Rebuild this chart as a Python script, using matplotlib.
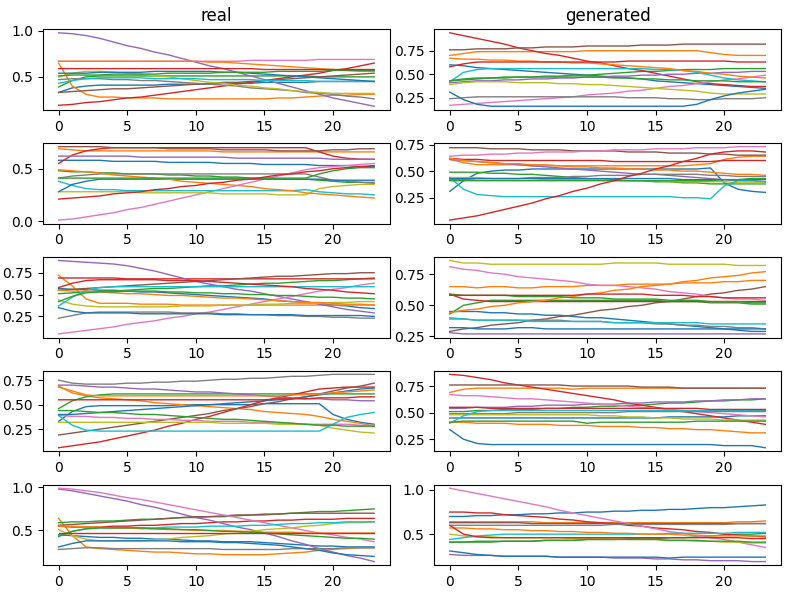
import numpy as np
import matplotlib
matplotlib.use("Agg")
import matplotlib.pyplot as plt

# 24 time steps, 14 series per panel (tab10 colour cycle order)
steps = np.arange(24)

real_1 = [
    [0.33,0.38,0.40,0.41,0.41,0.41,0.41,0.41,0.42,0.42,0.42,0.42,0.43,0.43,0.43,0.44,0.44,0.44,0.44,0.45,0.45,0.45,0.45,0.45],
    [0.65,0.40,0.31,0.28,0.28,0.27,0.27,0.27,0.26,0.26,0.26,0.26,0.26,0.26,0.26,0.26,0.27,0.27,0.28,0.29,0.30,0.30,0.31,0.31],
    [0.39,0.46,0.50,0.51,0.51,0.51,0.51,0.51,0.51,0.51,0.51,0.51,0.51,0.51,0.51,0.51,0.51,0.51,0.51,0.50,0.50,0.50,0.50,0.50],
    [0.19,0.20,0.22,0.23,0.25,0.27,0.28,0.30,0.32,0.34,0.36,0.38,0.40,0.42,0.44,0.46,0.48,0.50,0.52,0.54,0.57,0.59,0.62,0.65],
    [0.98,0.97,0.95,0.92,0.88,0.84,0.81,0.77,0.74,0.70,0.66,0.62,0.59,0.55,0.51,0.47,0.43,0.39,0.35,0.31,0.27,0.24,0.21,0.18],
    [0.33,0.34,0.35,0.36,0.37,0.37,0.38,0.39,0.40,0.41,0.42,0.43,0.44,0.44,0.45,0.46,0.47,0.48,0.49,0.50,0.51,0.52,0.53,0.54],
    [0.67,0.67,0.67,0.67,0.67,0.67,0.67,0.67,0.67,0.67,0.67,0.67,0.67,0.67,0.68,0.68,0.68,0.68,0.68,0.69,0.69,0.69,0.69,0.69],
    [0.47,0.48,0.48,0.48,0.47,0.47,0.46,0.46,0.45,0.44,0.43,0.42,0.41,0.40,0.38,0.37,0.36,0.35,0.33,0.32,0.31,0.29,0.28,0.26],
    [0.50,0.54,0.56,0.56,0.55,0.54,0.53,0.51,0.50,0.48,0.46,0.44,0.43,0.41,0.40,0.38,0.37,0.35,0.34,0.33,0.32,0.32,0.32,0.32],
    [0.43,0.46,0.48,0.49,0.49,0.49,0.49,0.48,0.48,0.48,0.48,0.47,0.47,0.47,0.47,0.46,0.46,0.46,0.46,0.45,0.45,0.45,0.45,0.45],
    [0.54,0.54,0.54,0.55,0.55,0.55,0.55,0.56,0.56,0.56,0.56,0.56,0.55,0.55,0.54,0.53,0.52,0.51,0.50,0.49,0.48,0.47,0.46,0.45],
    [0.67,0.67,0.67,0.67,0.67,0.67,0.67,0.67,0.67,0.67,0.67,0.66,0.66,0.65,0.64,0.63,0.62,0.61,0.60,0.59,0.58,0.57,0.56,0.56],
    [0.51,0.52,0.52,0.52,0.53,0.53,0.53,0.53,0.54,0.54,0.54,0.54,0.55,0.55,0.55,0.55,0.56,0.56,0.56,0.56,0.57,0.57,0.57,0.57],
    [0.59,0.59,0.59,0.59,0.59,0.59,0.59,0.59,0.59,0.59,0.59,0.59,0.59,0.59,0.59,0.58,0.58,0.58,0.58,0.58,0.58,0.58,0.58,0.58],
]

gen_1 = [
    [0.60,0.59,0.57,0.56,0.55,0.54,0.53,0.52,0.51,0.50,0.49,0.48,0.47,0.46,0.45,0.43,0.42,0.41,0.40,0.39,0.38,0.37,0.36,0.35],
    [0.70,0.72,0.74,0.74,0.74,0.74,0.74,0.74,0.74,0.74,0.75,0.75,0.75,0.75,0.75,0.75,0.75,0.75,0.75,0.73,0.71,0.70,0.70,0.70],
    [0.43,0.44,0.45,0.46,0.46,0.47,0.47,0.48,0.48,0.49,0.49,0.50,0.51,0.52,0.53,0.53,0.54,0.55,0.55,0.55,0.56,0.56,0.56,0.56],
    [0.94,0.91,0.88,0.85,0.82,0.78,0.75,0.72,0.70,0.67,0.64,0.62,0.59,0.56,0.54,0.51,0.48,0.45,0.42,0.40,0.39,0.38,0.37,0.37],
    [0.41,0.42,0.43,0.43,0.44,0.44,0.45,0.45,0.46,0.46,0.47,0.47,0.48,0.48,0.49,0.49,0.50,0.50,0.51,0.51,0.52,0.52,0.53,0.53],
    [0.76,0.76,0.77,0.77,0.77,0.78,0.78,0.79,0.79,0.79,0.80,0.80,0.80,0.80,0.81,0.81,0.81,0.82,0.82,0.82,0.82,0.82,0.82,0.82],
    [0.17,0.18,0.19,0.20,0.21,0.22,0.23,0.24,0.25,0.26,0.28,0.29,0.30,0.32,0.33,0.35,0.37,0.38,0.40,0.42,0.44,0.45,0.47,0.49],
    [0.24,0.25,0.26,0.26,0.26,0.26,0.26,0.26,0.26,0.26,0.26,0.26,0.26,0.25,0.25,0.25,0.24,0.24,0.23,0.23,0.24,0.24,0.24,0.25],
    [0.39,0.41,0.42,0.42,0.42,0.41,0.41,0.41,0.40,0.40,0.39,0.39,0.38,0.37,0.36,0.35,0.34,0.33,0.32,0.30,0.29,0.29,0.29,0.29],
    [0.42,0.52,0.55,0.56,0.56,0.56,0.56,0.56,0.56,0.56,0.56,0.56,0.56,0.56,0.56,0.55,0.55,0.54,0.52,0.49,0.46,0.44,0.43,0.42],
    [0.31,0.23,0.18,0.16,0.16,0.16,0.16,0.16,0.16,0.16,0.16,0.16,0.16,0.16,0.16,0.16,0.16,0.16,0.18,0.23,0.27,0.30,0.32,0.34],
    [0.67,0.66,0.66,0.65,0.65,0.64,0.64,0.63,0.63,0.62,0.62,0.61,0.60,0.59,0.58,0.57,0.56,0.54,0.53,0.51,0.50,0.48,0.47,0.46],
    [0.43,0.45,0.46,0.46,0.47,0.47,0.47,0.47,0.47,0.47,0.47,0.47,0.46,0.46,0.45,0.45,0.44,0.44,0.43,0.43,0.43,0.42,0.42,0.42],
    [0.58,0.61,0.63,0.63,0.63,0.63,0.63,0.63,0.63,0.63,0.63,0.63,0.63,0.64,0.64,0.64,0.64,0.64,0.64,0.64,0.64,0.63,0.63,0.63],
]

real_2 = [
    [0.58,0.58,0.58,0.58,0.57,0.57,0.57,0.57,0.56,0.56,0.56,0.56,0.55,0.55,0.55,0.54,0.54,0.54,0.54,0.53,0.53,0.53,0.52,0.52],
    [0.69,0.68,0.67,0.67,0.67,0.67,0.67,0.67,0.67,0.67,0.67,0.67,0.66,0.66,0.66,0.66,0.66,0.66,0.66,0.66,0.66,0.66,0.66,0.66],
    [0.48,0.47,0.47,0.46,0.46,0.45,0.45,0.45,0.44,0.44,0.43,0.43,0.42,0.42,0.41,0.41,0.40,0.40,0.40,0.39,0.38,0.37,0.37,0.36],
    [0.55,0.63,0.67,0.69,0.70,0.70,0.70,0.70,0.70,0.70,0.70,0.70,0.70,0.70,0.70,0.70,0.70,0.70,0.70,0.66,0.62,0.60,0.59,0.59],
    [0.62,0.62,0.62,0.62,0.62,0.62,0.61,0.61,0.61,0.61,0.61,0.61,0.61,0.60,0.60,0.60,0.60,0.60,0.60,0.60,0.59,0.59,0.59,0.59],
    [0.71,0.71,0.71,0.71,0.70,0.70,0.70,0.70,0.69,0.69,0.69,0.69,0.68,0.68,0.68,0.68,0.67,0.67,0.67,0.67,0.68,0.68,0.69,0.69],
    [0.01,0.02,0.04,0.06,0.08,0.11,0.13,0.16,0.19,0.22,0.25,0.28,0.31,0.34,0.37,0.40,0.43,0.46,0.49,0.51,0.52,0.53,0.54,0.55],
    [0.41,0.43,0.44,0.45,0.45,0.45,0.45,0.45,0.45,0.45,0.45,0.45,0.45,0.45,0.45,0.45,0.45,0.45,0.45,0.42,0.39,0.38,0.37,0.37],
    [0.28,0.28,0.28,0.28,0.28,0.28,0.27,0.27,0.27,0.27,0.27,0.27,0.26,0.26,0.26,0.26,0.25,0.25,0.25,0.31,0.33,0.34,0.35,0.35],
    [0.38,0.34,0.31,0.30,0.30,0.29,0.29,0.29,0.29,0.29,0.29,0.29,0.29,0.29,0.29,0.29,0.29,0.29,0.30,0.28,0.27,0.26,0.26,0.25],
    [0.28,0.35,0.38,0.40,0.40,0.40,0.40,0.40,0.40,0.40,0.40,0.40,0.40,0.40,0.40,0.40,0.40,0.40,0.40,0.40,0.39,0.39,0.39,0.39],
    [0.49,0.48,0.47,0.46,0.44,0.43,0.42,0.41,0.40,0.38,0.37,0.36,0.35,0.34,0.33,0.31,0.30,0.29,0.27,0.26,0.25,0.24,0.23,0.22],
    [0.41,0.41,0.41,0.41,0.41,0.41,0.41,0.41,0.41,0.41,0.41,0.41,0.41,0.41,0.41,0.41,0.41,0.41,0.41,0.45,0.48,0.50,0.51,0.51],
    [0.21,0.22,0.23,0.24,0.26,0.27,0.28,0.30,0.31,0.33,0.34,0.36,0.37,0.39,0.40,0.42,0.44,0.45,0.47,0.48,0.50,0.51,0.52,0.53],
]

gen_2 = [
    [0.31,0.41,0.48,0.50,0.51,0.51,0.52,0.52,0.52,0.52,0.52,0.52,0.52,0.52,0.52,0.52,0.52,0.52,0.52,0.53,0.39,0.33,0.31,0.30],
    [0.61,0.58,0.56,0.56,0.56,0.56,0.55,0.55,0.55,0.55,0.55,0.55,0.55,0.55,0.55,0.55,0.55,0.55,0.56,0.57,0.61,0.63,0.64,0.64],
    [0.49,0.49,0.49,0.48,0.48,0.47,0.47,0.46,0.45,0.44,0.43,0.42,0.42,0.41,0.41,0.40,0.40,0.39,0.39,0.38,0.38,0.38,0.38,0.38],
    [0.62,0.61,0.61,0.60,0.60,0.60,0.60,0.60,0.60,0.60,0.60,0.60,0.59,0.59,0.59,0.59,0.59,0.59,0.59,0.59,0.60,0.60,0.60,0.60],
    [0.61,0.60,0.59,0.58,0.57,0.56,0.55,0.54,0.53,0.52,0.51,0.50,0.49,0.48,0.47,0.47,0.46,0.45,0.44,0.43,0.42,0.41,0.41,0.40],
    [0.72,0.72,0.72,0.71,0.71,0.71,0.70,0.70,0.70,0.69,0.69,0.69,0.69,0.68,0.68,0.68,0.67,0.67,0.67,0.66,0.66,0.65,0.65,0.65],
    [0.64,0.65,0.65,0.66,0.66,0.67,0.67,0.68,0.68,0.68,0.69,0.69,0.70,0.70,0.70,0.71,0.71,0.71,0.72,0.72,0.72,0.73,0.73,0.73],
    [0.42,0.42,0.43,0.43,0.43,0.43,0.44,0.44,0.44,0.45,0.45,0.46,0.46,0.46,0.47,0.47,0.47,0.47,0.47,0.46,0.46,0.45,0.45,0.45],
    [0.44,0.44,0.44,0.43,0.43,0.43,0.43,0.42,0.42,0.42,0.42,0.42,0.41,0.41,0.41,0.41,0.40,0.40,0.40,0.40,0.40,0.39,0.39,0.39],
    [0.44,0.33,0.28,0.27,0.26,0.26,0.26,0.26,0.26,0.26,0.26,0.26,0.26,0.26,0.26,0.26,0.26,0.25,0.25,0.24,0.36,0.41,0.41,0.40],
    [0.43,0.43,0.43,0.43,0.43,0.43,0.43,0.43,0.43,0.43,0.43,0.43,0.43,0.43,0.43,0.43,0.43,0.42,0.42,0.42,0.42,0.42,0.42,0.42],
    [0.62,0.60,0.59,0.58,0.57,0.57,0.56,0.56,0.55,0.54,0.54,0.53,0.53,0.52,0.52,0.51,0.51,0.50,0.50,0.49,0.48,0.47,0.47,0.46],
    [0.41,0.41,0.41,0.41,0.41,0.41,0.41,0.41,0.41,0.41,0.41,0.41,0.41,0.41,0.41,0.41,0.41,0.41,0.41,0.41,0.42,0.42,0.43,0.43],
    [0.04,0.06,0.08,0.11,0.14,0.17,0.20,0.24,0.27,0.31,0.34,0.38,0.41,0.45,0.48,0.52,0.55,0.59,0.62,0.66,0.68,0.69,0.69,0.68],
]

real_3 = [
    [0.57,0.56,0.56,0.55,0.55,0.54,0.53,0.53,0.52,0.51,0.50,0.49,0.48,0.47,0.46,0.45,0.43,0.42,0.41,0.40,0.38,0.37,0.35,0.34],
    [0.72,0.60,0.45,0.40,0.40,0.40,0.39,0.39,0.39,0.38,0.38,0.38,0.38,0.38,0.38,0.38,0.38,0.38,0.38,0.38,0.38,0.38,0.38,0.38],
    [0.51,0.52,0.53,0.54,0.54,0.55,0.56,0.57,0.57,0.58,0.59,0.60,0.60,0.61,0.62,0.63,0.63,0.64,0.65,0.66,0.66,0.67,0.68,0.69],
    [0.69,0.69,0.69,0.69,0.69,0.68,0.68,0.68,0.68,0.68,0.68,0.68,0.68,0.68,0.68,0.68,0.68,0.68,0.68,0.68,0.68,0.68,0.68,0.68],
    [0.89,0.88,0.87,0.86,0.85,0.83,0.80,0.77,0.73,0.69,0.65,0.62,0.59,0.56,0.54,0.51,0.48,0.45,0.42,0.39,0.36,0.33,0.31,0.29],
    [0.55,0.56,0.57,0.58,0.59,0.60,0.61,0.62,0.63,0.64,0.65,0.66,0.67,0.68,0.69,0.70,0.71,0.71,0.72,0.73,0.74,0.74,0.75,0.75],
    [0.05,0.07,0.09,0.11,0.13,0.16,0.18,0.20,0.23,0.25,0.28,0.30,0.33,0.36,0.39,0.42,0.45,0.48,0.51,0.54,0.56,0.58,0.61,0.63],
    [0.23,0.26,0.29,0.30,0.30,0.30,0.30,0.30,0.30,0.29,0.29,0.29,0.28,0.28,0.27,0.27,0.26,0.26,0.25,0.25,0.24,0.24,0.23,0.23],
    [0.44,0.39,0.37,0.36,0.36,0.36,0.36,0.36,0.36,0.37,0.37,0.37,0.38,0.38,0.38,0.39,0.39,0.40,0.40,0.40,0.41,0.41,0.42,0.42],
    [0.37,0.47,0.55,0.58,0.59,0.59,0.59,0.59,0.59,0.59,0.59,0.59,0.59,0.59,0.59,0.59,0.59,0.59,0.59,0.59,0.59,0.59,0.59,0.59],
    [0.35,0.31,0.29,0.29,0.29,0.29,0.28,0.28,0.28,0.28,0.28,0.28,0.27,0.27,0.27,0.27,0.27,0.27,0.26,0.26,0.26,0.26,0.26,0.25],
    [0.55,0.54,0.54,0.53,0.52,0.51,0.51,0.50,0.49,0.49,0.48,0.47,0.46,0.46,0.45,0.44,0.43,0.42,0.41,0.41,0.40,0.39,0.39,0.38],
    [0.42,0.48,0.52,0.53,0.53,0.54,0.54,0.54,0.53,0.53,0.52,0.52,0.51,0.51,0.50,0.50,0.49,0.49,0.48,0.47,0.47,0.46,0.46,0.45],
    [0.58,0.63,0.66,0.67,0.67,0.67,0.67,0.67,0.66,0.66,0.66,0.65,0.64,0.63,0.62,0.61,0.60,0.59,0.57,0.56,0.55,0.53,0.52,0.51],
]

gen_3 = [
    [0.45,0.45,0.45,0.44,0.44,0.43,0.43,0.42,0.42,0.41,0.40,0.40,0.39,0.38,0.37,0.36,0.35,0.34,0.33,0.32,0.31,0.30,0.29,0.29],
    [0.65,0.65,0.64,0.65,0.65,0.64,0.64,0.65,0.65,0.65,0.66,0.66,0.66,0.67,0.67,0.67,0.67,0.68,0.68,0.68,0.69,0.69,0.70,0.70],
    [0.43,0.50,0.52,0.54,0.54,0.54,0.54,0.54,0.54,0.54,0.54,0.54,0.54,0.54,0.54,0.54,0.53,0.53,0.53,0.52,0.52,0.52,0.51,0.51],
    [0.59,0.55,0.54,0.53,0.53,0.53,0.53,0.53,0.53,0.53,0.53,0.53,0.53,0.53,0.53,0.53,0.53,0.53,0.53,0.53,0.53,0.53,0.53,0.53],
    [0.28,0.27,0.27,0.27,0.27,0.27,0.27,0.27,0.27,0.27,0.27,0.27,0.27,0.27,0.27,0.27,0.27,0.27,0.27,0.27,0.27,0.27,0.27,0.27],
    [0.29,0.31,0.32,0.34,0.35,0.36,0.38,0.39,0.41,0.42,0.44,0.46,0.47,0.49,0.50,0.52,0.53,0.55,0.57,0.59,0.60,0.62,0.63,0.65],
    [0.81,0.79,0.78,0.76,0.75,0.73,0.72,0.71,0.70,0.69,0.67,0.66,0.66,0.65,0.64,0.63,0.61,0.60,0.59,0.57,0.56,0.55,0.55,0.54],
    [0.39,0.39,0.38,0.38,0.38,0.38,0.38,0.38,0.38,0.37,0.37,0.37,0.36,0.36,0.36,0.35,0.35,0.34,0.34,0.33,0.33,0.32,0.32,0.31],
    [0.86,0.84,0.84,0.83,0.83,0.83,0.83,0.83,0.83,0.83,0.83,0.83,0.84,0.84,0.84,0.84,0.83,0.83,0.83,0.83,0.83,0.82,0.82,0.82],
    [0.40,0.39,0.38,0.38,0.38,0.38,0.37,0.37,0.37,0.37,0.37,0.37,0.36,0.36,0.36,0.36,0.36,0.36,0.36,0.35,0.35,0.35,0.35,0.35],
    [0.32,0.32,0.31,0.31,0.31,0.32,0.32,0.31,0.31,0.31,0.31,0.31,0.31,0.31,0.31,0.31,0.31,0.31,0.31,0.31,0.31,0.31,0.31,0.31],
    [0.44,0.46,0.47,0.49,0.50,0.52,0.53,0.54,0.56,0.57,0.59,0.60,0.62,0.63,0.65,0.66,0.67,0.69,0.70,0.72,0.73,0.74,0.76,0.77],
    [0.59,0.58,0.58,0.58,0.58,0.57,0.57,0.57,0.57,0.56,0.56,0.56,0.55,0.55,0.55,0.55,0.54,0.54,0.54,0.53,0.53,0.53,0.52,0.52],
    [0.58,0.58,0.58,0.58,0.58,0.58,0.58,0.58,0.58,0.58,0.59,0.59,0.59,0.59,0.59,0.58,0.58,0.58,0.57,0.57,0.56,0.56,0.56,0.56],
]

real_4 = [
    [0.33,0.43,0.48,0.49,0.49,0.49,0.49,0.49,0.49,0.50,0.50,0.50,0.50,0.50,0.50,0.51,0.51,0.51,0.51,0.51,0.40,0.35,0.32,0.30],
    [0.69,0.62,0.59,0.57,0.56,0.55,0.54,0.52,0.51,0.50,0.49,0.48,0.47,0.46,0.45,0.43,0.42,0.41,0.40,0.38,0.35,0.33,0.31,0.28],
    [0.46,0.54,0.58,0.60,0.61,0.61,0.61,0.61,0.61,0.61,0.61,0.61,0.61,0.61,0.61,0.61,0.61,0.61,0.61,0.61,0.61,0.61,0.61,0.61],
    [0.06,0.08,0.10,0.12,0.15,0.18,0.21,0.24,0.28,0.31,0.35,0.38,0.42,0.46,0.50,0.54,0.57,0.60,0.63,0.66,0.67,0.68,0.68,0.68],
    [0.70,0.70,0.69,0.68,0.68,0.67,0.66,0.66,0.65,0.64,0.63,0.63,0.62,0.61,0.60,0.59,0.58,0.57,0.56,0.56,0.55,0.55,0.54,0.54],
    [0.19,0.21,0.23,0.25,0.27,0.29,0.31,0.33,0.35,0.37,0.39,0.41,0.44,0.46,0.48,0.51,0.53,0.56,0.58,0.61,0.64,0.67,0.69,0.72],
    [0.39,0.38,0.38,0.37,0.37,0.36,0.36,0.35,0.35,0.34,0.34,0.33,0.33,0.33,0.32,0.32,0.31,0.31,0.30,0.30,0.30,0.30,0.29,0.29],
    [0.75,0.72,0.71,0.71,0.71,0.72,0.72,0.73,0.73,0.74,0.74,0.75,0.76,0.76,0.77,0.77,0.78,0.79,0.79,0.80,0.81,0.81,0.81,0.81],
    [0.32,0.32,0.32,0.32,0.32,0.32,0.32,0.32,0.32,0.32,0.32,0.32,0.31,0.31,0.31,0.31,0.30,0.30,0.30,0.29,0.26,0.24,0.22,0.21],
    [0.39,0.29,0.24,0.23,0.23,0.23,0.23,0.23,0.23,0.23,0.23,0.23,0.23,0.23,0.23,0.23,0.23,0.23,0.23,0.23,0.30,0.37,0.40,0.42],
    [0.40,0.40,0.41,0.42,0.43,0.44,0.45,0.46,0.47,0.48,0.49,0.50,0.51,0.52,0.53,0.54,0.55,0.56,0.58,0.60,0.62,0.64,0.66,0.67],
    [0.68,0.64,0.60,0.59,0.59,0.59,0.59,0.59,0.59,0.59,0.59,0.59,0.59,0.59,0.59,0.59,0.59,0.60,0.60,0.61,0.62,0.63,0.64,0.65],
    [0.44,0.44,0.43,0.42,0.42,0.41,0.40,0.40,0.39,0.38,0.37,0.36,0.35,0.35,0.34,0.33,0.32,0.31,0.30,0.29,0.29,0.28,0.28,0.28],
    [0.55,0.55,0.55,0.55,0.55,0.55,0.55,0.55,0.55,0.55,0.55,0.55,0.55,0.55,0.55,0.55,0.56,0.56,0.56,0.57,0.57,0.57,0.58,0.58],
]

gen_4 = [
    [0.45,0.45,0.45,0.45,0.45,0.45,0.45,0.45,0.45,0.45,0.45,0.45,0.45,0.45,0.45,0.45,0.46,0.46,0.46,0.46,0.46,0.47,0.47,0.47],
    [0.69,0.72,0.73,0.73,0.73,0.73,0.73,0.73,0.73,0.72,0.73,0.73,0.73,0.73,0.73,0.73,0.73,0.73,0.73,0.73,0.73,0.73,0.73,0.73],
    [0.51,0.51,0.52,0.52,0.53,0.53,0.53,0.54,0.54,0.55,0.55,0.56,0.56,0.57,0.57,0.58,0.59,0.59,0.60,0.61,0.61,0.62,0.62,0.63],
    [0.86,0.85,0.83,0.81,0.78,0.76,0.74,0.72,0.70,0.68,0.66,0.64,0.62,0.59,0.57,0.55,0.53,0.51,0.49,0.47,0.45,0.43,0.41,0.39],
    [0.54,0.54,0.55,0.55,0.55,0.56,0.56,0.57,0.57,0.57,0.58,0.58,0.58,0.59,0.59,0.60,0.60,0.60,0.61,0.61,0.62,0.62,0.63,0.63],
    [0.76,0.76,0.76,0.76,0.76,0.76,0.76,0.76,0.76,0.75,0.75,0.75,0.75,0.75,0.74,0.74,0.74,0.73,0.73,0.73,0.73,0.73,0.73,0.73],
    [0.67,0.66,0.66,0.65,0.64,0.63,0.63,0.62,0.61,0.60,0.59,0.58,0.57,0.56,0.55,0.54,0.53,0.52,0.51,0.50,0.49,0.48,0.47,0.46],
    [0.49,0.49,0.49,0.49,0.49,0.50,0.50,0.50,0.50,0.50,0.50,0.50,0.50,0.51,0.51,0.51,0.51,0.51,0.51,0.51,0.51,0.51,0.51,0.51],
    [0.48,0.48,0.48,0.48,0.48,0.48,0.48,0.48,0.48,0.48,0.48,0.47,0.47,0.46,0.46,0.45,0.45,0.44,0.44,0.44,0.43,0.43,0.43,0.43],
    [0.40,0.47,0.51,0.52,0.52,0.52,0.52,0.52,0.52,0.52,0.52,0.52,0.52,0.52,0.52,0.52,0.52,0.52,0.52,0.52,0.52,0.52,0.52,0.52],
    [0.34,0.25,0.21,0.20,0.20,0.20,0.20,0.20,0.20,0.20,0.20,0.20,0.20,0.20,0.20,0.20,0.20,0.20,0.20,0.20,0.19,0.19,0.19,0.17],
    [0.41,0.41,0.40,0.40,0.40,0.39,0.39,0.39,0.38,0.38,0.38,0.37,0.37,0.37,0.36,0.36,0.35,0.35,0.34,0.34,0.33,0.32,0.31,0.31],
    [0.41,0.42,0.42,0.42,0.42,0.42,0.42,0.42,0.42,0.42,0.40,0.41,0.41,0.41,0.41,0.41,0.41,0.41,0.42,0.42,0.42,0.42,0.42,0.42],
    [0.55,0.55,0.55,0.54,0.54,0.54,0.54,0.54,0.54,0.54,0.54,0.54,0.54,0.54,0.54,0.54,0.54,0.54,0.54,0.53,0.53,0.53,0.53,0.53],
]

real_5 = [
    [0.45,0.44,0.43,0.42,0.42,0.41,0.41,0.40,0.40,0.39,0.38,0.38,0.37,0.37,0.37,0.36,0.35,0.34,0.33,0.32,0.32,0.31,0.31,0.31],
    [0.64,0.44,0.31,0.29,0.28,0.27,0.26,0.25,0.25,0.24,0.23,0.23,0.22,0.22,0.22,0.22,0.23,0.24,0.25,0.27,0.28,0.29,0.30,0.30],
    [0.59,0.60,0.60,0.61,0.61,0.62,0.63,0.63,0.64,0.65,0.65,0.66,0.66,0.67,0.68,0.68,0.69,0.70,0.71,0.72,0.72,0.73,0.74,0.75],
    [0.55,0.54,0.54,0.54,0.55,0.55,0.56,0.56,0.57,0.58,0.58,0.59,0.60,0.60,0.61,0.61,0.62,0.62,0.63,0.63,0.63,0.64,0.64,0.64],
    [0.98,0.96,0.93,0.90,0.87,0.84,0.80,0.77,0.73,0.69,0.65,0.62,0.58,0.54,0.51,0.47,0.43,0.38,0.34,0.29,0.25,0.21,0.18,0.14],
    [0.56,0.57,0.58,0.59,0.60,0.61,0.62,0.63,0.64,0.65,0.66,0.66,0.67,0.68,0.68,0.69,0.69,0.70,0.70,0.70,0.70,0.70,0.70,0.70],
    [0.99,0.98,0.96,0.94,0.91,0.88,0.86,0.83,0.80,0.77,0.74,0.71,0.68,0.65,0.62,0.59,0.56,0.53,0.50,0.47,0.45,0.42,0.40,0.37],
    [0.28,0.29,0.30,0.30,0.29,0.29,0.29,0.29,0.29,0.29,0.29,0.29,0.28,0.28,0.28,0.28,0.28,0.29,0.29,0.29,0.29,0.30,0.30,0.30],
    [0.51,0.44,0.40,0.38,0.38,0.38,0.38,0.39,0.40,0.42,0.43,0.44,0.46,0.47,0.49,0.51,0.52,0.53,0.55,0.56,0.58,0.59,0.59,0.60],
    [0.44,0.49,0.52,0.53,0.53,0.53,0.53,0.53,0.54,0.54,0.54,0.55,0.55,0.55,0.56,0.56,0.57,0.58,0.58,0.59,0.59,0.60,0.60,0.60],
    [0.31,0.35,0.38,0.38,0.38,0.38,0.38,0.38,0.38,0.37,0.37,0.37,0.36,0.36,0.35,0.34,0.33,0.31,0.29,0.27,0.24,0.22,0.21,0.20],
    [0.55,0.55,0.54,0.54,0.53,0.53,0.52,0.52,0.51,0.51,0.50,0.50,0.50,0.49,0.49,0.48,0.48,0.48,0.47,0.47,0.47,0.47,0.47,0.47],
    [0.43,0.49,0.52,0.53,0.53,0.53,0.53,0.52,0.52,0.51,0.51,0.50,0.49,0.49,0.48,0.47,0.46,0.45,0.44,0.43,0.42,0.41,0.41,0.40],
    [0.47,0.47,0.47,0.47,0.47,0.47,0.47,0.47,0.47,0.47,0.47,0.47,0.47,0.47,0.47,0.47,0.47,0.47,0.47,0.47,0.47,0.47,0.47,0.47],
]

gen_5 = [
    [0.70,0.70,0.71,0.71,0.72,0.72,0.73,0.73,0.74,0.74,0.75,0.75,0.76,0.76,0.77,0.77,0.78,0.78,0.79,0.80,0.80,0.81,0.82,0.83],
    [0.64,0.64,0.64,0.64,0.64,0.64,0.64,0.63,0.63,0.63,0.63,0.63,0.63,0.63,0.63,0.63,0.63,0.63,0.63,0.63,0.63,0.64,0.64,0.65],
    [0.41,0.41,0.41,0.41,0.42,0.42,0.42,0.43,0.43,0.43,0.44,0.44,0.44,0.45,0.45,0.45,0.46,0.46,0.47,0.48,0.49,0.50,0.50,0.51],
    [0.75,0.75,0.74,0.74,0.72,0.71,0.70,0.69,0.67,0.66,0.64,0.63,0.62,0.60,0.59,0.57,0.56,0.55,0.53,0.52,0.50,0.49,0.48,0.47],
    [0.27,0.26,0.26,0.26,0.25,0.25,0.25,0.25,0.24,0.24,0.24,0.24,0.23,0.23,0.23,0.22,0.22,0.21,0.21,0.20,0.20,0.20,0.19,0.19],
    [0.63,0.63,0.63,0.63,0.63,0.63,0.62,0.62,0.62,0.62,0.62,0.62,0.62,0.62,0.62,0.62,0.62,0.62,0.62,0.62,0.62,0.62,0.62,0.62],
    [1.02,0.99,0.96,0.93,0.90,0.87,0.84,0.81,0.77,0.74,0.71,0.68,0.65,0.62,0.59,0.56,0.53,0.51,0.48,0.46,0.44,0.41,0.38,0.35],
    [0.60,0.60,0.60,0.60,0.60,0.60,0.60,0.60,0.60,0.60,0.60,0.60,0.61,0.61,0.61,0.61,0.61,0.61,0.61,0.61,0.61,0.62,0.62,0.62],
    [0.50,0.48,0.47,0.47,0.46,0.46,0.46,0.46,0.46,0.45,0.45,0.45,0.45,0.44,0.44,0.44,0.43,0.43,0.42,0.42,0.41,0.41,0.40,0.40],
    [0.44,0.46,0.48,0.49,0.50,0.50,0.50,0.50,0.50,0.50,0.50,0.50,0.50,0.50,0.50,0.50,0.51,0.51,0.51,0.51,0.51,0.52,0.52,0.52],
    [0.31,0.29,0.27,0.26,0.25,0.25,0.25,0.25,0.24,0.24,0.24,0.24,0.24,0.24,0.24,0.24,0.23,0.24,0.24,0.24,0.24,0.24,0.24,0.24],
    [0.57,0.57,0.56,0.56,0.55,0.55,0.54,0.54,0.53,0.53,0.52,0.52,0.51,0.51,0.50,0.50,0.50,0.49,0.49,0.48,0.48,0.48,0.48,0.48],
    [0.41,0.41,0.42,0.42,0.42,0.42,0.42,0.43,0.43,0.43,0.44,0.44,0.44,0.44,0.44,0.44,0.43,0.43,0.43,0.42,0.42,0.42,0.41,0.41],
    [0.60,0.50,0.47,0.46,0.46,0.46,0.46,0.46,0.46,0.46,0.46,0.46,0.46,0.46,0.46,0.46,0.46,0.46,0.46,0.46,0.46,0.46,0.45,0.45],
]

real_panels = [real_1, real_2, real_3, real_4, real_5]
gen_panels = [gen_1, gen_2, gen_3, gen_4, gen_5]

fig, axes = plt.subplots(5, 2, figsize=(7.93, 5.95), dpi=100)
fig.subplots_adjust(left=0.054, right=0.985, top=0.951, bottom=0.050,
                    wspace=0.127, hspace=0.41)

for row in range(5):
    for col, panels in enumerate([real_panels, gen_panels]):
        ax = axes[row, col]
        for series in panels[row]:
            ax.plot(steps, series, linewidth=1.0)

axes[0, 0].set_title("real")
axes[0, 1].set_title("generated")

fig.savefig("out.png", dpi=100)
